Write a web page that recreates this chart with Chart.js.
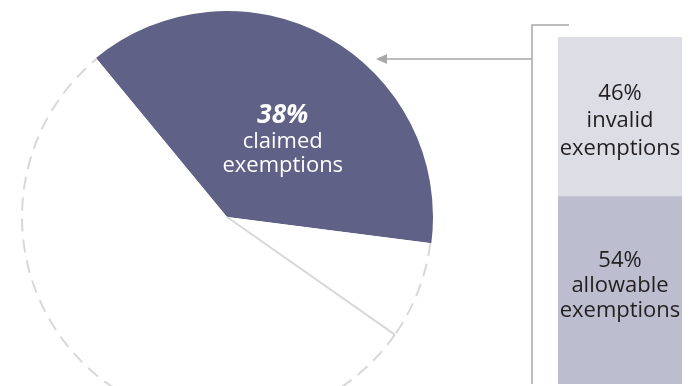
<!DOCTYPE html>
<html>
<head>
<meta charset="utf-8">
<script src="https://cdn.jsdelivr.net/npm/chart.js@4.4.1/dist/chart.umd.min.js"></script>
<style>
  html, body { margin: 0; padding: 0; background: #fff; }
  body { width: 696px; height: 386px; overflow: hidden; position: relative; }
  #pieBox { position: absolute; left: 0; top: -10px; width: 454px; height: 454px; }
  #barBox { position: absolute; left: 360px; top: 0; width: 336px; height: 386px; }
</style>
</head>
<body>
<div id="pieBox"><canvas id="pieChart"></canvas></div>
<div id="barBox"><canvas id="barChart"></canvas></div>
<script>
// === DATEN ===
// Kreis: beanspruchte Ausnahmen und Rest (der Rest ist durch eine Linie geteilt)
const pieLabels = ['claimed exemptions', 'other', 'rest'];
const pieValues = [38, 7.7, 54.3];
const pieLabelLines = ['38%', 'claimed', 'exemptions'];

// Balken: Aufteilung der beanspruchten Ausnahmen (unten nach oben)
const barLabels = ['allowable exemptions', 'invalid exemptions'];
const barValues = [54, 46];
const barTextLines = [
    ['54%', 'allowable', 'exemptions'],
    ['46%', 'invalid', 'exemptions']
];

// === FARBEN ===
const COLORS = {
    SLICE: '#5f6187',
    OUTLINE: '#d8d8d8',
    BAR: ['#bcbdcf', '#dddde6'],
    LINE: '#a8a8a8',
    TEXT: '#231f20'
};
const FONT = '"Open Sans", "Noto Sans", sans-serif';

// Gestrichelter Rand und Trennlinie für die weißen Segmente
const pieOutline = {
    id: 'pieOutline',
    afterDatasetsDraw(chart) {
        const ctx = chart.ctx;
        const arcs = chart.getDatasetMeta(0).data;
        ctx.save();
        ctx.strokeStyle = COLORS.OUTLINE;
        ctx.lineWidth = 2;
        ctx.setLineDash([13, 8]);
        for (let i = 1; i < arcs.length; i++) {
            const a = arcs[i];
            ctx.beginPath();
            ctx.arc(a.x, a.y, a.outerRadius - 1, a.startAngle, a.endAngle);
            ctx.stroke();
        }
        // durchgezogene Linie zwischen den weißen Segmenten
        const a = arcs[2];
        ctx.setLineDash([]);
        ctx.beginPath();
        ctx.moveTo(a.x, a.y);
        ctx.lineTo(a.x + Math.cos(a.startAngle) * (a.outerRadius - 1),
                   a.y + Math.sin(a.startAngle) * (a.outerRadius - 1));
        ctx.stroke();

        // Beschriftung im dunklen Segment
        const p = arcs[0].tooltipPosition();
        const x = p.x + 6;
        const y = p.y - 4;
        ctx.fillStyle = '#ffffff';
        ctx.textAlign = 'center';
        ctx.textBaseline = 'alphabetic';
        ctx.font = 'italic bold 26px ' + FONT;
        ctx.fillText(pieLabelLines[0], x, y);
        ctx.font = '22px ' + FONT;
        ctx.fillText(pieLabelLines[1], x, y + 25);
        ctx.fillText(pieLabelLines[2], x, y + 49);
        ctx.restore();
    }
};

// Klammer, Pfeil und Texte am Balken
const barDecor = {
    id: 'barDecor',
    afterDatasetsDraw(chart) {
        const ctx = chart.ctx;
        const area = chart.chartArea;
        ctx.save();
        ctx.strokeStyle = COLORS.LINE;
        ctx.fillStyle = COLORS.LINE;
        ctx.lineWidth = 1.5;
        const bx = area.left - 26;
        ctx.beginPath();
        ctx.moveTo(bx + 37, 25);
        ctx.lineTo(bx, 25);
        ctx.lineTo(bx, area.bottom);
        ctx.moveTo(bx, 59);
        ctx.lineTo(24, 59);
        ctx.stroke();
        ctx.beginPath();
        ctx.moveTo(16, 59);
        ctx.lineTo(27, 54);
        ctx.lineTo(27, 64);
        ctx.closePath();
        ctx.fill();

        ctx.fillStyle = COLORS.TEXT;
        ctx.textAlign = 'center';
        ctx.textBaseline = 'alphabetic';
        ctx.font = '22px ' + FONT;
        // erste Grundlinie relativ zur Segmentmitte, Zeilenabstand je Segment
        const shift = [-23, -17];
        const lead = [25, 27.5];
        chart.data.datasets.forEach((ds, i) => {
            const bar = chart.getDatasetMeta(i).data[0];
            const cy = (bar.y + bar.base) / 2;
            barTextLines[i].forEach((t, k) => {
                ctx.fillText(t, bar.x, cy + shift[i] + k * lead[i]);
            });
        });
        ctx.restore();
    }
};

new Chart(document.getElementById('pieChart'), {
    type: 'pie',
    data: {
        labels: pieLabels,
        datasets: [{
            data: pieValues,
            backgroundColor: [COLORS.SLICE, '#ffffff', '#ffffff'],
            borderWidth: 0
        }]
    },
    options: {
        responsive: true,
        maintainAspectRatio: false,
        animation: false,
        rotation: -39.5,
        radius: 206,
        layout: { padding: 0 },
        plugins: { legend: { display: false }, tooltip: { enabled: false } }
    },
    plugins: [pieOutline]
});

new Chart(document.getElementById('barChart'), {
    type: 'bar',
    data: {
        labels: [''],
        datasets: barValues.map((v, i) => ({
            label: barLabels[i],
            data: [v],
            backgroundColor: COLORS.BAR[i],
            borderWidth: 0,
            categoryPercentage: 1,
            barPercentage: 1
        }))
    },
    options: {
        responsive: true,
        maintainAspectRatio: false,
        animation: false,
        layout: { padding: { left: 198, right: 14, top: 37, bottom: 2 } },
        scales: {
            x: { stacked: true, display: false },
            y: { stacked: true, display: false, min: 0, max: 100 }
        },
        plugins: { legend: { display: false }, tooltip: { enabled: false } }
    },
    plugins: [barDecor]
});
</script>
</body>
</html>
